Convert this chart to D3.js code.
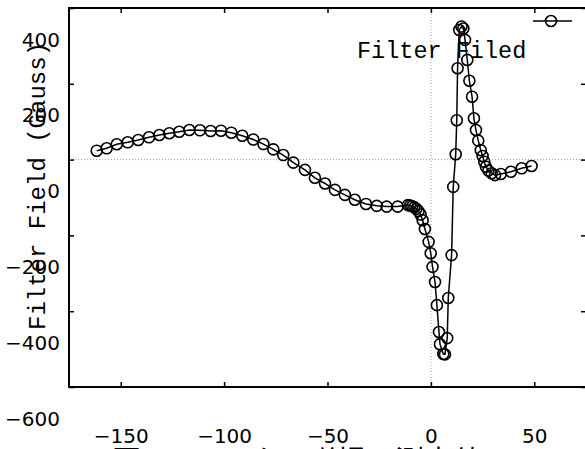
<!DOCTYPE html>
<html>
<head>
<meta charset="utf-8">
<script src="https://cdn.jsdelivr.net/npm/d3@7"></script>
<style>
  body { margin: 0; background: #fff; }
  svg { display: block; }
</style>
</head>
<body>
<div id="chart"></div>
<script>
// measured filter field, x position vs field (Gauss)
let xVals = [-161.6, -156.8, -151.9, -146.6, -141.5, -136.3, -131.3, -126.5, -121.7, -116.8,
  -111.7, -106.5, -101.5, -96.5, -91.2, -85.9, -81, -76.2, -71.4, -66.5,
  -60.9, -56.1, -51.2, -46.4, -41.6, -36.8, -31.4, -26.2, -21.4, -16.1,
  -11.1, -10, -9, -8, -7, -6, -5, -4,
  -2.9, -1.1, -0.1, 0.8, 2, 2.9, 3.9, 4.4, 6, 6.8,
  7.9, 8.4, 10, 10.8, 12, 12.5, 12.9, 13.7, 14.8, 15.7,
  16.5, 17.6, 18.6, 19.9, 20.8, 21.8, 22.9, 24.1, 25, 25.8,
  26.6, 27.8, 29.4, 31, 33.8, 38.7, 43.9, 48.7];
let yVals = [23.5, 29.8, 40.4, 45.6, 51.7, 58.8, 64.9, 69.4, 73.6, 78.1,
  77.3, 75.5, 76.3, 71, 63, 53, 41, 27, 12, -8,
  -27, -48, -63, -80, -93, -106, -117, -122, -124, -124,
  -120, -121, -123, -126, -130, -136, -145, -160,
  -183, -217, -247, -283, -323, -384, -455, -487, -513, -514,
  -471, -365, -252, -72, 14, 104, 241, 342, 351, 346,
  316, 263, 208, 166, 109, 78, 50, 25, 9.5, -5.5,
  -19, -29, -36, -41, -38, -32, -23, -17];

let xTicks = [-150, -100, -50, 0, 50];
let yTicks = [-600, -400, -200, 0, 200, 400];

let titleText = "Filter Filed";
let yLabel = "Filter Field (Gauss)";
let caption = "図1 フィルター磁場の測定値";

////////////////////////////////////////////////////////////////////////
// SVG setup

let width = 585, height = 449;
let plotL = 69, plotR = 586, plotT = 8, plotB = 387;

let svg = d3.select("#chart").append("svg")
  .attr("width", width).attr("height", height);

let x = d3.scaleLinear().domain([-175, 75]).range([plotL, plotR]);
let y = d3.scaleLinear().domain([-600, 400]).range([plotB, plotT]);

let data = xVals.map((v, i) => ({ x: v, y: yVals[i] }));

// zero axes (dotted)
svg.append("line")
  .attr("x1", plotL).attr("x2", plotR)
  .attr("y1", y(0)).attr("y2", y(0))
  .style("stroke", "#999").style("stroke-width", 1).style("stroke-dasharray", "1,2");
svg.append("line")
  .attr("x1", x(0)).attr("x2", x(0))
  .attr("y1", plotT).attr("y2", plotB)
  .style("stroke", "#999").style("stroke-width", 1).style("stroke-dasharray", "1,2");

// axes: inward ticks, labels placed below/left with the odd offset of the original
let numFont = "'DejaVu Sans', sans-serif";

let gB = svg.append("g").attr("transform", `translate(0,${plotB})`)
  .call(d3.axisBottom(x).tickValues(xTicks).tickSizeInner(-5).tickSizeOuter(0));
gB.selectAll("text").attr("y", 56).attr("dy", null);

let gL = svg.append("g").attr("transform", `translate(${plotL},0)`)
  .call(d3.axisLeft(y).tickValues(yTicks).tickSizeInner(-5).tickSizeOuter(0).tickPadding(9));
gL.selectAll("text").attr("dy", null).attr("y", 38);

let gT = svg.append("g").attr("transform", `translate(0,${plotT})`)
  .call(d3.axisTop(x).tickValues(xTicks).tickSizeInner(-5).tickSizeOuter(0).tickFormat(""));
let gR = svg.append("g").attr("transform", `translate(${plotR},0)`)
  .call(d3.axisRight(y).tickValues(yTicks).tickSizeInner(-5).tickSizeOuter(0).tickFormat(""));

[gB, gL, gT, gR].forEach(g => {
  g.select(".domain").remove();
  g.selectAll("line").style("stroke", "#000").style("stroke-width", 1.5);
  g.selectAll("text").style("font-family", numFont).style("font-size", "20px").style("fill", "#000");
});

// border
svg.append("path")
  .attr("d", `M${plotR},${plotT}H${plotL}V${plotB}H${plotR}V${plotT}`)
  .style("fill", "none").style("stroke", "#000").style("stroke-width", 2);

// data line and points
svg.append("path")
  .datum(data)
  .attr("d", d3.line().x(d => x(d.x)).y(d => y(d.y)))
  .style("fill", "none").style("stroke", "#000").style("stroke-width", 1.5);

svg.append("g")
  .selectAll("circle")
  .data(data)
  .enter().append("circle")
  .attr("cx", d => x(d.x))
  .attr("cy", d => y(d.y))
  .attr("r", 5.5)
  .style("fill", "none").style("stroke", "#000").style("stroke-width", 1.6);

// legend key
svg.append("line")
  .attr("x1", 533).attr("x2", 572).attr("y1", 21).attr("y2", 21)
  .style("stroke", "#000").style("stroke-width", 1.5);
svg.append("circle")
  .attr("cx", 551).attr("cy", 21).attr("r", 5.5)
  .style("fill", "none").style("stroke", "#000").style("stroke-width", 1.6);

// texts
let monoFont = "'Liberation Mono', 'DejaVu Sans Mono', monospace";

svg.append("text")
  .attr("x", 357).attr("y", 58)
  .style("font-family", monoFont).style("font-size", "23.5px")
  .text(titleText);

svg.append("text")
  .attr("transform", "translate(45,186) rotate(-90)")
  .attr("text-anchor", "middle")
  .style("font-family", monoFont).style("font-size", "24px")
  .text(yLabel);

svg.append("text")
  .attr("x", 297).attr("y", 472)
  .attr("text-anchor", "middle")
  .style("font-family", "'Noto Sans CJK JP', sans-serif").style("font-size", "29px")
  .text(caption);
</script>
</body>
</html>
